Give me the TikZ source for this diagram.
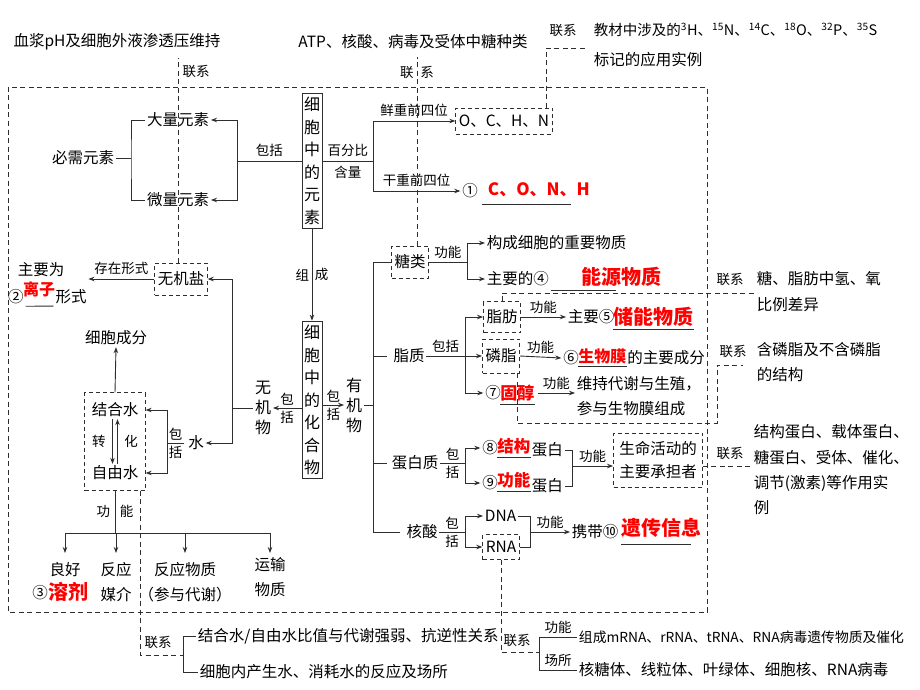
\documentclass[tikz,border=0pt]{standalone}
\usepackage{fontspec}
\setmainfont{Noto Sans CJK SC}
\usetikzlibrary{arrows.meta,positioning,fit}
\definecolor{mapLine}{HTML}{2E2E2E}
\definecolor{mapRed}{HTML}{FF0000}

\begin{document}
\begin{tikzpicture}[x=1pt,y=-1pt,line width=0.9pt,
    every node/.style={inner sep=1.5pt,font=\fontsize{15.5}{18}\selectfont},
    lbl/.style={font=\fontsize{13.5}{16}\selectfont},
    dbox/.style={draw=mapLine,line width=0.9pt,dash pattern=on 4pt off 3pt,inner sep=3pt},
    vbox/.style={draw=mapLine,line width=1pt,align=center,text width=16pt,
                 inner xsep=2pt,inner ysep=4pt,font=\fontsize{16}{22.5}\selectfont},
    vtext/.style={align=center,font=\fontsize{16}{20}\selectfont},
    two/.style={align=#1,font=\fontsize{15.5}{25}\selectfont},
    two/.default=center,
    ans/.style={text=mapRed,font=\fontsize{#1}{20}\selectfont\bfseries},
    ans/.default=18,
    link/.style={draw=mapLine,line width=0.9pt,dash pattern=on 5pt off 3.5pt},
    ul/.style={draw=mapLine,line width=0.8pt},
    arr/.style={draw=mapLine,-{Stealth[length=6pt,width=4.5pt]}},
    ln/.style={draw=mapLine}]
  \useasboundingbox[fill=white] (0,0) rectangle (920,690);

  % topics linked from outside
  \node (plasma) at (117,42) {血浆pH及细胞外液渗透压维持};
  \node (atp) at (413,42) {ATP、核酸、病毒及受体中糖种类};
  \node[lbl] (lxiso) at (563,30) {联系};
  \node[anchor=west,font=\fontsize{14.5}{17}\selectfont] (iso) at (592,30)
    {教材中涉及的\textsuperscript{3}H、\textsuperscript{15}N、\textsuperscript{14}C、\textsuperscript{18}O、\textsuperscript{32}P、\textsuperscript{35}S};
  \node[anchor=west] (iso2) at (592,60) {标记的应用实例};

  \draw[link] (8,87) rectangle (707,612);

  % elements
  \node (bixu) at (83,158) {必需元素};
  \node (daliang) at (178,120) {大量元素};
  \node (weiliang) at (178,200) {微量元素};
  \node[vbox] (yuansu) at (312,161) {细\\胞\\中\\的\\元\\素};
  \coordinate (jbx) at (131,158);
  \coordinate (jbk) at (237,161);
  \coordinate (jpct) at (373,161);
  \draw[ln] (bixu.east) -- (jbx);
  \draw[ln] (daliang.west) -| (jbx) |- (weiliang.west);
  \draw[ln] (yuansu.west) -- node[lbl,above=2pt]{包括} (jbk);
  \draw[arr] (jbk) |- (daliang.east);
  \draw[arr] (jbk) |- (weiliang.east);

  \node[dbox,minimum width=94pt,minimum height=26pt] (ochn) at (504,121) {O、C、H、N};
  \node (q1) at (470,191) {①};
  \node[ans=17,anchor=west] (a1) at (486,190) {C、O、N、H};
  \draw[ln] (yuansu.east) -- node[lbl,above=2pt]{百分比} node[lbl,below=3pt]{含量} (jpct);
  \draw[arr] (jpct) |- node[lbl,above=2pt,pos=0.75]{鲜重前四位} (ochn.west);
  \draw[arr] (jpct) |- node[lbl,above=2pt,pos=0.75]{干重前四位} (q1.west);
  \draw[ul] ([xshift=2pt,yshift=-4pt]q1.south east) -- ++(89,0);

  % compounds
  \node[vbox] (huahe) at (312,400) {细\\胞\\中\\的\\化\\合\\物};
  \draw[arr] (yuansu) -- node[lbl,left=1pt]{组} node[lbl,right=1pt]{成} (huahe);
  \node[vtext] (wujiwu) at (263,408) {无\\机\\物};
  \node[vtext] (youjiwu) at (354,405) {有\\机\\物};
  \draw[arr] (huahe.west |- wujiwu) -- node[lbl,above=1pt]{包} node[lbl,below=1pt]{括} (wujiwu.east);
  \draw[arr] (huahe.east |- youjiwu) -- node[lbl,above=1pt]{包} node[lbl,below=1pt]{括} (youjiwu.west);

  % organic branch
  \node[dbox,minimum width=36pt,minimum height=32pt] (tanglei) at (410,262) {糖类};
  \node (zhizhi) at (409,356) {脂质};
  \node (danbai) at (415,463) {蛋白质};
  \node (hesuan) at (422,532) {核酸};
  \coordinate (jorg) at (373,405);
  \draw[ln] (youjiwu.east) -- (jorg);
  \draw[ln] (tanglei.west) -| (jorg |- hesuan) -- ([xshift=-5pt]hesuan.west);
  \draw[ln] ([xshift=-5pt]zhizhi.west) -- (zhizhi.west -| jorg);
  \draw[ln] ([xshift=-3pt]danbai.west) -- (danbai.west -| jorg);

  % sugar
  \coordinate (jtang) at (467,262);
  \node[anchor=west] (gouc) at (485,243) {构成细胞的重要物质};
  \node[anchor=west] (zhuyao4) at (485,279) {主要的④};
  \node[ans=20,anchor=west] (a4) at (580,277) {能源物质};
  \draw[ln] (tanglei.east) -- node[lbl,above=1pt]{功能} (jtang);
  \draw[arr] (jtang) |- (gouc.west);
  \draw[arr] (jtang) |- (zhuyao4.west);
  \draw[ul] ([yshift=-2pt]zhuyao4.south east) -- ++(65,0);

  % lipids
  \coordinate (jzz) at (465,356);
  \node[dbox,minimum width=34pt,minimum height=31pt] (zhifang) at (502,317) {脂肪};
  \node[dbox,minimum width=36pt,minimum height=34pt] (linzhi) at (501,356) {磷脂};
  \node (q7) at (493,393) {⑦};
  \draw[ln] (zhizhi.east) -- node[lbl,above=1pt]{包括} (jzz);
  \draw[arr] (jzz) |- (zhifang.west);
  \draw[arr] (jzz) -- (linzhi.west);
  \draw[arr] (jzz) |- (q7.west);

  \node[anchor=west] (zhuyao5) at (566,317) {主要⑤};
  \node[ans=20,anchor=west,inner sep=0] (a5) at (613,317) {储能物质};
  \draw[arr] (zhifang.east) -- node[lbl,above=1pt]{功能} (zhuyao5.west);
  \draw[ul] ([yshift=-2pt]a5.south west) -- ([yshift=-2pt]a5.south east);

  \node (q6) at (571,358) {⑥};
  \node[ans=16,anchor=west,inner sep=0] (a6) at (578,356) {生物膜};
  \node[anchor=west,inner sep=0] (zycf) at (a6.east |- q6) {的主要成分};
  \draw[arr] (linzhi.east) -- node[lbl,above=1pt]{功能} (q6.west);
  \draw[ul] ([yshift=-2pt]a6.south west) -- ([yshift=-2pt]a6.south east);

  \node[ans=17,anchor=west,inner sep=0] (a7) at (500,393) {固醇};
  \node[two=left,anchor=west] (weichi) at (575,396) {维持代谢与生殖，\\参与生物膜组成};
  \draw[ul] ([yshift=-3pt]a7.south west) -- ([yshift=-3pt]a7.south east);
  \draw[arr] ([xshift=3pt]a7.east) -- node[lbl,above=1pt]{功能} (a7.east -| weichi.west);

  % proteins
  \coordinate (jdb) at (465,463);
  \node (q8) at (490,448) {⑧};
  \node (q9) at (490,483) {⑨};
  \node[ans=16.5,anchor=west,inner sep=0] (a8) at (497,446) {结构};
  \node[ans=16.5,anchor=west,inner sep=0] (a9) at (497,480) {功能};
  \node[anchor=west] (db8) at (530,450) {蛋白};
  \node[anchor=west] (db9) at (530,486) {蛋白};
  \draw[ln] (danbai.east) -- node[lbl,above=1pt]{包} node[lbl,below=1pt]{括} (jdb);
  \draw[arr] (jdb) |- (q8.west);
  \draw[arr] (jdb) |- (q9.west);
  \draw[ul] ([yshift=-3pt]a8.south west) -- ([yshift=-3pt]a8.south east);
  \draw[ul] ([yshift=-3pt]a9.south west) -- ([yshift=-3pt]a9.south east);
  \coordinate (jdb2) at (572,466);
  \draw[ln] (db8.east) -| (jdb2);
  \draw[ln] (db9.east) -| (jdb2);
  \node[dbox,two,minimum width=89pt,minimum height=54pt,font=\fontsize{15.5}{23}\selectfont]
    (chengdan) at (658,460) {生命活动的\\主要承担者};
  \draw[arr] (jdb2) -- node[lbl,above=1pt]{功能} (jdb2 -| chengdan.west);

  % nucleic acids
  \coordinate (jhs) at (465,532);
  \node[anchor=west] (dna) at (483,516) {DNA};
  \node[dbox,minimum width=34pt,minimum height=25pt] (rna) at (501,547) {RNA};
  \draw[ln] (hesuan.east) -- node[lbl,above=1pt]{包} node[lbl,below=1pt]{括} (jhs);
  \draw[arr] (jhs) |- (dna.west);
  \draw[arr] (jhs) |- (rna.west);
  \coordinate (jhs2) at (530,532);
  \draw[ln] (dna.east) -| (jhs2);
  \draw[ln] (rna.east) -| (jhs2);
  \node[anchor=west] (xiedai) at (570,532) {携带⑩};
  \node[ans=20,anchor=west] (a10) at (620,528) {遗传信息};
  \draw[arr] (jhs2) -- node[lbl,above=1pt]{功能} (xiedai.west);
  \draw[ul] ([xshift=1pt,yshift=-3pt]xiedai.south east) -- ++(70,0);

  % inorganic branch
  \coordinate (jwj) at (232,408);
  \node[dbox,minimum width=52pt,minimum height=32pt] (wujiyan) at (181,279) {无机盐};
  \node (shui) at (196,443) {水};
  \draw[ln] (wujiwu.west) -- (jwj);
  \draw[arr] (jwj) |- (wujiyan.east);
  \draw[arr] (jwj) |- (shui.east);
  \node (zhuyaowei) at (41,270) {主要为};
  \node (q2) at (16,297) {②};
  \node[ans=16,inner sep=0] (a2) at (39,289) {离子};
  \node (xs) at (71,297) {形式};
  \draw[ul] (q2.south east) -- (xs.south west);
  \draw[arr] (wujiyan.west) -- node[lbl,above=2pt]{存在形式} (wujiyan.west -| xs.east);

  % water
  \node (jieheshui) at (115,410) {结合水};
  \node (ziyoushui) at (115,473) {自由水};
  \node[dbox,fit=(jieheshui)(ziyoushui),inner xsep=5pt,inner ysep=8pt] (shuibox) {};
  \coordinate (jsh) at (167,443);
  \draw[ln] ([xshift=-2pt]shui.west) -- node[lbl,above=1pt]{包} node[lbl,below=1pt]{括} (jsh);
  \draw[arr] (jsh) |- (shuibox.east |- jieheshui);
  \draw[arr] (jsh) |- (shuibox.east |- ziyoushui);
  \draw[arr] ([xshift=-2.5pt]jieheshui.south) -- node[lbl,left=5pt]{转} ([xshift=-2.5pt]ziyoushui.north);
  \draw[arr] ([xshift=2.5pt]ziyoushui.north) -- node[lbl,right=5pt]{化} ([xshift=2.5pt]jieheshui.south);
  \node (chengfen) at (116,338) {细胞成分};
  \draw[arr] (shuibox.north) -- (chengfen.south);

  \node (lianghao) at (65,570) {良好};
  \node (q3) at (40,593) {③};
  \node[ans=20,anchor=west,inner sep=0] (a3) at (48,592) {溶剂};
  \node[two] (meijie) at (116,582) {反应\\媒介};
  \node[two] (fywz) at (185,582) {反应物质\\（参与代谢）};
  \node[two] (yunshu) at (270,577) {运输\\物质};
  \coordinate (jgn) at (116,533);
  \coordinate (jtip) at (116,553);
  \draw[ln] (shuibox.south) -- node[lbl,left=3pt]{功} node[lbl,right=3pt]{能} (shuibox.south |- jgn);
  \draw[ln] (lianghao |- jgn) -- (yunshu |- jgn);
  \foreach \f in {lianghao,meijie,fywz,yunshu}
    \draw[arr] (\f |- jgn) -- (\f |- jtip);

  % dashed links out of the frame
  \coordinate (plx) at ([yshift=-6pt]plasma.south);
  \coordinate (wjn) at ([xshift=-3pt]wujiyan.north);
  \draw[link] (wjn) -- (wjn |- plx);
  \node[lbl] (lxwjy) at (196,71) {联系};

  \coordinate (atpx) at ([yshift=-6pt]atp.south);
  \coordinate (tln) at ([xshift=7pt]tanglei.north);
  \draw[link] (tln) -- (tln |- atpx);
  \node[lbl] (lxtl) at (417,72) {联\hspace{7pt}系};

  \coordinate (isoend) at (585,48);
  \draw[link] ([xshift=42pt]ochn.north) |- (isoend);

  \coordinate (lxtang) at (755,293);
  \draw[link] (zhifang.north) |- (lxtang);
  \node[lbl] (lxzf) at (730,279) {联系};
  \node[two=left,anchor=west,font=\fontsize{15.5}{26}\selectfont] (tzbl) at (755,292) {糖、脂肪中氢、氧\\比例差异};

  \coordinate (lxlz) at (743,365);
  \draw[link] ([xshift=16pt]linzhi.south) |- (717,423) |- (lxlz);
  \node[lbl] (lxlz2) at (733,351) {联系};
  \node[two=left,anchor=west] (hlz) at (755,362) {含磷脂及不含磷脂\\的结构};

  \coordinate (lxdb) at (752,466);
  \draw[link] (chengdan.east |- lxdb) -- (lxdb);
  \node[lbl] (lxdb2) at (730,453) {联系};
  \node[two=left,anchor=west,font=\fontsize{15.5}{25.3}\selectfont] (dblz) at (752,470)
    {结构蛋白、载体蛋白、\\糖蛋白、受体、催化、\\调节(激素)等作用实\\例};

  \coordinate (lxrna) at (539,652);
  \draw[link] (rna.south) |- (lxrna);
  \node[lbl] (lxrna2) at (517,640) {联系};
  \node[anchor=west,font=\fontsize{13.8}{17}\selectfont] (rnafun) at (577,637) {组成mRNA、rRNA、tRNA、RNA病毒遗传物质及催化};
  \node[anchor=west] (rnaloc) at (577,670) {核糖体、线粒体、叶绿体、细胞核、RNA病毒};
  \draw[ln] (lxrna) |- node[lbl,above=1pt,pos=0.75]{功能} (rnafun.west);
  \draw[ln] (lxrna) |- node[lbl,above=1pt,pos=0.75]{场所} (rnaloc.west);

  \coordinate (lxw) at (183,655);
  \draw[link] ([xshift=25pt]shuibox.south) |- (lxw);
  \node[lbl] (lxw2) at (158,642) {联系};
  \node[anchor=west] (w1) at (196,636) {结合水/自由水比值与代谢强弱、抗逆性关系};
  \node[anchor=west] (w2) at (198,672) {细胞内产生水、消耗水的反应及场所};
  \draw[ln] (lxw) |- (w1.west);
  \draw[ln] (lxw) |- (w2.west);
\end{tikzpicture}
\end{document}
